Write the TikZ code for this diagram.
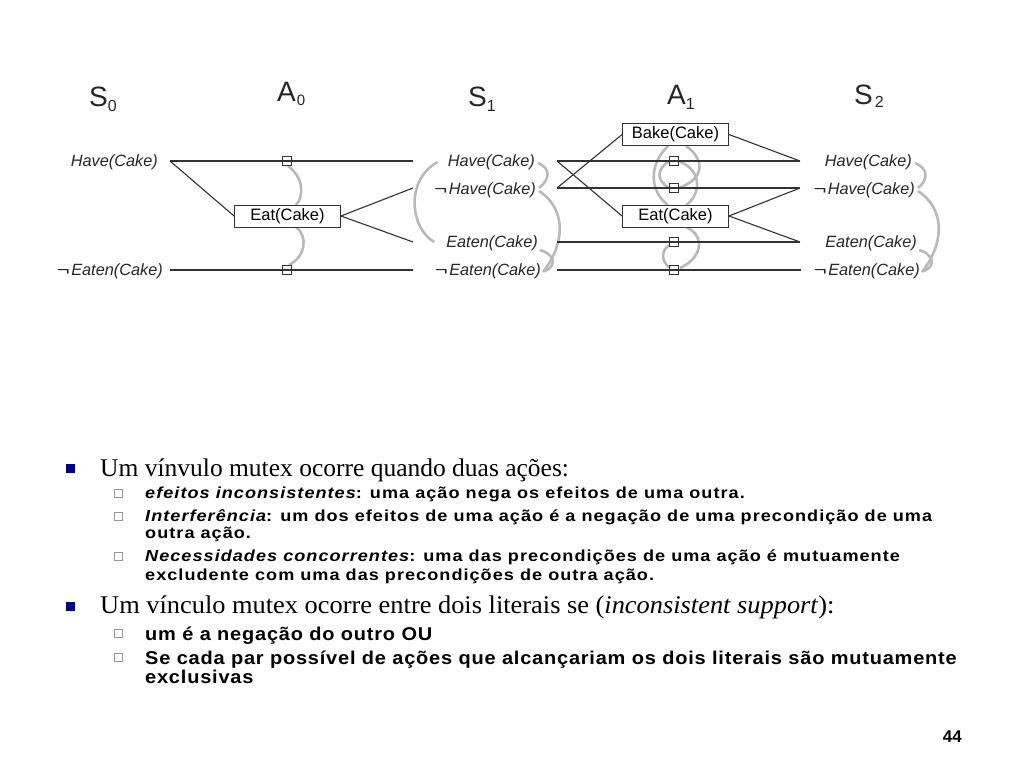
\documentclass[tikz,border=0pt]{standalone}
\usepackage{fontspec}
\setmainfont{Liberation Serif}
\newfontfamily\arial{Liberation Sans}
\newfontfamily\arialA[FakeStretch=1.13,LetterSpace=6.5]{Liberation Sans}
\newfontfamily\arialB[FakeStretch=1.08,LetterSpace=4.3]{Liberation Sans}
\newcommand{\nt}{{\upshape\scalebox{1.35}[1]{¬}\hspace{1.5pt}}}
\definecolor{navyb}{RGB}{0,0,140}
\definecolor{linec}{RGB}{50,50,50}
\definecolor{mutexc}{RGB}{185,185,185}
\begin{document}
\begin{tikzpicture}[x=1pt,y=-1pt,
  lit/.style={font=\arial\itshape\fontsize{16.3}{16.3}\selectfont, anchor=east, inner sep=0pt, text=black!85},
  act/.style={draw=linec, line width=0.9pt, minimum width=106pt, minimum height=22pt, inner sep=0pt, font=\arial\fontsize{16.5}{16.5}\selectfont, fill=white},
  noop/.style={draw=linec, line width=0.8pt, minimum size=9.5pt, inner sep=0pt},
  link/.style={draw=linec, line width=1.1pt},
  mutex/.style={draw=mutexc, line width=2.6pt},
  hdr/.style={font=\arial\fontsize{28}{28}\selectfont, anchor=base west, inner sep=0pt, text=black!85},
  bul/.style={fill=navyb, minimum size=9pt, inner sep=0pt},
  sbul/.style={draw=black!40, line width=0.6pt, minimum size=8pt, inner sep=0pt},
  main/.style={anchor=base west, inner sep=0pt, font=\fontsize{25.5}{25.5}\selectfont},
  subA/.style={anchor=base west, inner sep=0pt, font=\arialA\bfseries\fontsize{16}{16}\selectfont},
  subB/.style={anchor=base west, inner sep=0pt, font=\arialB\bfseries\fontsize{18.5}{18.5}\selectfont}
]
\useasboundingbox (0,0) rectangle (1024,768);

% headers
\node[hdr] (hS0) at (89,106) {S\raisebox{-5pt}{\fontsize{16}{16}\selectfont 0}};
\node[hdr] (hA0) at (277,101) {A\hspace{1pt}\raisebox{-4pt}{\fontsize{15}{15}\selectfont 0}};
\node[hdr] (hS1) at (468,106) {S\raisebox{-5pt}{\fontsize{16}{16}\selectfont 1}};
\node[hdr] (hA1) at (667,104) {A\raisebox{-5pt}{\fontsize{16}{16}\selectfont 1}};
\node[hdr] (hS2) at (854,104) {S\hspace{2pt}\raisebox{-3pt}{\fontsize{16}{16}\selectfont 2}};

% literals
\node[lit] (s0h)  at (158,162) {Have(Cake)};
\node[lit] (s0ne) at (163,271) {\nt Eaten(Cake)};
\node[lit] (s1h)  at (535,162) {Have(Cake)};
\node[lit] (s1nh) at (536,190) {\nt Have(Cake)};
\node[lit] (s1e)  at (538,243) {Eaten(Cake)};
\node[lit] (s1ne) at (541,271) {\nt Eaten(Cake)};
\node[lit] (s2h)  at (912,162) {Have(Cake)};
\node[lit] (s2nh) at (915,190) {\nt Have(Cake)};
\node[lit] (s2e)  at (917,243) {Eaten(Cake)};
\node[lit] (s2ne) at (920,271) {\nt Eaten(Cake)};

% line end coordinates
\coordinate (a0h) at (170,161);
\coordinate (a0e) at (170,270);
\coordinate (b0h) at (413,161);
\coordinate (b0nh) at (413,188);
\coordinate (b0e) at (413,242);
\coordinate (b0ne) at (413,270);
\coordinate (a1h) at (557,161);
\coordinate (a1nh) at (557,188);
\coordinate (a1e) at (557,242);
\coordinate (a1ne) at (557,270);
\coordinate (b1h) at (800,161);
\coordinate (b1nh) at (800,188);
\coordinate (b1e) at (800,242);
\coordinate (b1ne) at (801,270);

% mutex arcs (behind)
% A0
\draw[mutex] (288,166) .. controls (304,178) and (304,196) .. (296,205);
\draw[mutex] (296,227) .. controls (308,236) and (306,256) .. (289,265);
% S1
\draw[mutex] ([shift={(-10,0)}]s1h.west) .. controls (405,180) and (410,228) .. ([shift={(-12,-1)}]s1e.west);
\draw[mutex] ([shift={(3,1)}]s1h.east) .. controls +(14,6) and +(10,-8) .. ([shift={(3,-2)}]s1nh.east);
\draw[mutex] ([shift={(3,1)}]s1nh.east) .. controls +(30,20) and +(20,-25) .. ([shift={(2,1)}]s1ne.east);
\draw[mutex] ([shift={(2,7)}]s1e.east) .. controls +(12,3) and +(14,-6) .. ([shift={(4,0)}]s1ne.east);
% S2
\draw[mutex] ([shift={(3,1)}]s2h.east) .. controls +(14,6) and +(10,-8) .. ([shift={(3,-2)}]s2nh.east);
\draw[mutex] ([shift={(3,1)}]s2nh.east) .. controls +(30,20) and +(20,-25) .. ([shift={(2,1)}]s2ne.east);
\draw[mutex] ([shift={(2,7)}]s2e.east) .. controls +(12,3) and +(14,-6) .. ([shift={(4,0)}]s2ne.east);
% A1
\draw[mutex] (686,146) .. controls (706,160) and (704,180) .. (678,188);
\draw[mutex] (678,161) .. controls (704,170) and (700,196) .. (686,205);
\draw[mutex] (668,146) .. controls (648,165) and (650,192) .. (668,205);
\draw[mutex] (670,161) .. controls (656,168) and (656,182) .. (670,188);
\draw[mutex] (686,227) .. controls (706,236) and (702,258) .. (680,268);
\draw[mutex] (669,245) .. controls (660,252) and (662,262) .. (670,268);

% action boxes
\node[act] (eat0)  at (287.5,216) {Eat(Cake)};
\node[act] (bake1) at (675.5,134.5) {Bake(Cake)};
\node[act] (eat1)  at (675.5,216) {Eat(Cake)};

% links
\draw[link] (a0h) -- (b0h);
\draw[link] (a0e) -- (b0ne);
\draw[link] (a0h) -- (eat0.west);
\draw[link] (eat0.east) -- (b0nh);
\draw[link] (eat0.east) -- (b0e);
\draw[link] (a1h) -- (b1h);
\draw[link] (a1nh) -- (b1nh);
\draw[link] (a1e) -- (b1e);
\draw[link] (a1ne) -- (b1ne);
\draw[link] (a1h) -- (eat1.west);
\draw[link] (a1nh) -- (bake1.west);
\draw[link] (bake1.east) -- (b1h);
\draw[link] (eat1.east) -- (b1nh);
\draw[link] (eat1.east) -- (b1e);

% noops
\node[noop] (n0a) at (287,161) {};
\node[noop] (n0b) at (287,270) {};
\node[noop] (n1a) at (674,161) {};
\node[noop] (n1b) at (674,188) {};
\node[noop] (n1c) at (674,242) {};
\node[noop] (n1d) at (674,270) {};

% text
\node[bul] (b1) at (70,468) {};
\node[main] (t1) at (100,476) {Um vínvulo mutex ocorre quando duas ações:};
\node[sbul] (q1) at (118,493) {};
\node[subA] (u1) at (145,498) {\itshape efeitos inconsistentes\upshape: uma ação nega os efeitos de uma outra.};
\node[sbul] (q2) at (118,516) {};
\node[subA] (u2) at (145,521) {\itshape Interferência\upshape: um dos efeitos de uma ação é a negação de uma precondição de uma};
\node[subA] (u3) at (145,538) {outra ação.};
\node[sbul] (q3) at (118,556) {};
\node[subA] (u4) at (145,561) {\itshape Necessidades concorrentes\upshape: uma das precondições de uma ação é mutuamente};
\node[subA] (u5) at (145,580) {excludente com uma das precondições de outra ação.};
\node[bul] (b2) at (70,606) {};
\node[main] (t2) at (100,613) {\scalebox{1.035}[1]{Um vínculo mutex ocorre entre dois literais se (\textit{inconsistent support}):}};
\node[sbul] (q4) at (118,633) {};
\node[subB] (v1) at (145,640) {um é a negação do outro OU};
\node[sbul] (q5) at (118,657) {};
\node[subB] (v2) at (145,664) {Se cada par possível de ações que alcançariam os dois literais são mutuamente};
\node[subB] (v3) at (145,683) {exclusivas};
\node[anchor=base east, inner sep=0pt, font=\arial\bfseries\fontsize{17}{17}\selectfont] (pg) at (962,742) {44};
\end{tikzpicture}
\end{document}
